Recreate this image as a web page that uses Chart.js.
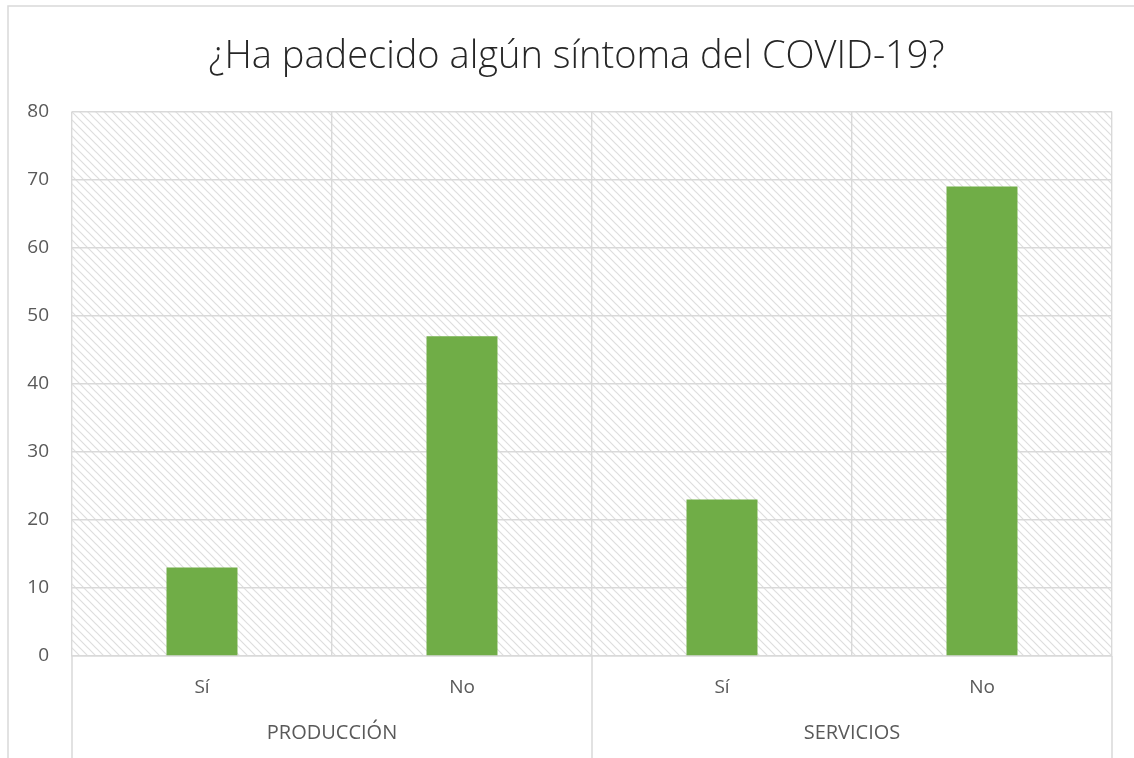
<!DOCTYPE html>
<html>
<head>
<meta charset="utf-8">
<script src="https://cdn.jsdelivr.net/npm/chart.js@4"></script>
<style>
  html, body { margin: 0; padding: 0; background: #fff; }
  #wrap { width: 1134px; height: 758px; position: relative; }
</style>
</head>
<body>
<div id="wrap"><canvas id="chart"></canvas></div>
<script>
const TITLE = '¿Ha padecido algún síntoma del COVID-19?';
const answers = ['Sí', 'No', 'Sí', 'No'];
const groups = ['PRODUCCIÓN', 'SERVICIOS'];
const values = [13, 47, 23, 69];

const GRID = '#d9d9d9';
const TEXT = '#595959';

// diagonal hatch like the Excel plot area fill
function hatch() {
  const c = document.createElement('canvas');
  c.width = 8; c.height = 8;
  const g = c.getContext('2d');
  g.strokeStyle = '#dedede';
  g.lineWidth = 1.2;
  g.beginPath();
  g.moveTo(0, 0); g.lineTo(8, 8);
  g.moveTo(-4, 4); g.lineTo(4, 12);
  g.moveTo(4, -4); g.lineTo(12, 4);
  g.stroke();
  return g.createPattern(c, 'repeat');
}

const frame = {
  id: 'frame',
  beforeDraw(chart) {
    const { ctx, chartArea: a } = chart;
    ctx.save();
    ctx.fillStyle = hatch();
    ctx.fillRect(a.left, a.top, a.right - a.left, a.bottom - a.top);
    ctx.restore();
  },
  afterDraw(chart) {
    const { ctx, chartArea: a } = chart;
    const x = chart.scales.x;
    const mid = (x.getPixelForValue(1) + x.getPixelForValue(2)) / 2;
    ctx.save();
    ctx.strokeStyle = GRID;
    ctx.lineWidth = 1.5;
    ctx.beginPath();
    [a.left, mid, a.right].forEach(p => {
      ctx.moveTo(p, a.bottom);
      ctx.lineTo(p, chart.height);
    });
    // outer chart border (cropped on right/bottom)
    ctx.moveTo(8, chart.height);
    ctx.lineTo(8, 6);
    ctx.lineTo(chart.width, 6);
    ctx.stroke();
    ctx.restore();
  }
};

new Chart(document.getElementById('chart'), {
  type: 'bar',
  data: {
    labels: answers,
    datasets: [{
      data: values,
      backgroundColor: '#70ad47',
      borderWidth: 0,
      categoryPercentage: 1,
      barPercentage: 0.273
    }]
  },
  options: {
    responsive: true,
    maintainAspectRatio: false,
    animation: false,
    // the original chart is cropped on the right, so its title sits right of centre
    layout: { padding: { top: 0, left: 19, right: 0, bottom: 0 } },
    plugins: {
      legend: { display: false },
      tooltip: { enabled: false },
      title: {
        display: true,
        text: TITLE,
        color: '#262626',
        font: { family: 'Open Sans', size: 38, weight: '300' },
        padding: { top: 34, bottom: 32 }
      }
    },
    scales: {
      y: {
        min: 0,
        max: 80,
        ticks: { stepSize: 10, color: TEXT, padding: 23, font: { family: 'Open Sans', size: 19 } },
        grid: { color: GRID, lineWidth: 1.4, drawTicks: false },
        border: { display: false },
        afterFit(s) { s.width = 53; }
      },
      gap: {
        type: 'linear',
        position: 'right',
        ticks: { display: false },
        grid: { display: false, drawTicks: false },
        border: { display: false },
        afterFit(s) { s.width = 22; }
      },
      x: {
        ticks: { color: TEXT, padding: 20, font: { family: 'Open Sans', size: 19 } },
        grid: { color: GRID, lineWidth: 1.4, drawTicks: false, offset: true },
        border: { color: GRID, width: 1.4 },
        afterFit(s) { s.height = 62; }
      },
      x2: {
        type: 'category',
        labels: groups,
        position: 'bottom',
        offset: true,
        ticks: { color: TEXT, padding: 3, font: { family: 'Open Sans', size: 20 } },
        grid: { display: false, drawTicks: false },
        border: { display: false },
        afterFit(s) { s.height = 40; }
      }
    }
  },
  plugins: [frame]
});
</script>
</body>
</html>
